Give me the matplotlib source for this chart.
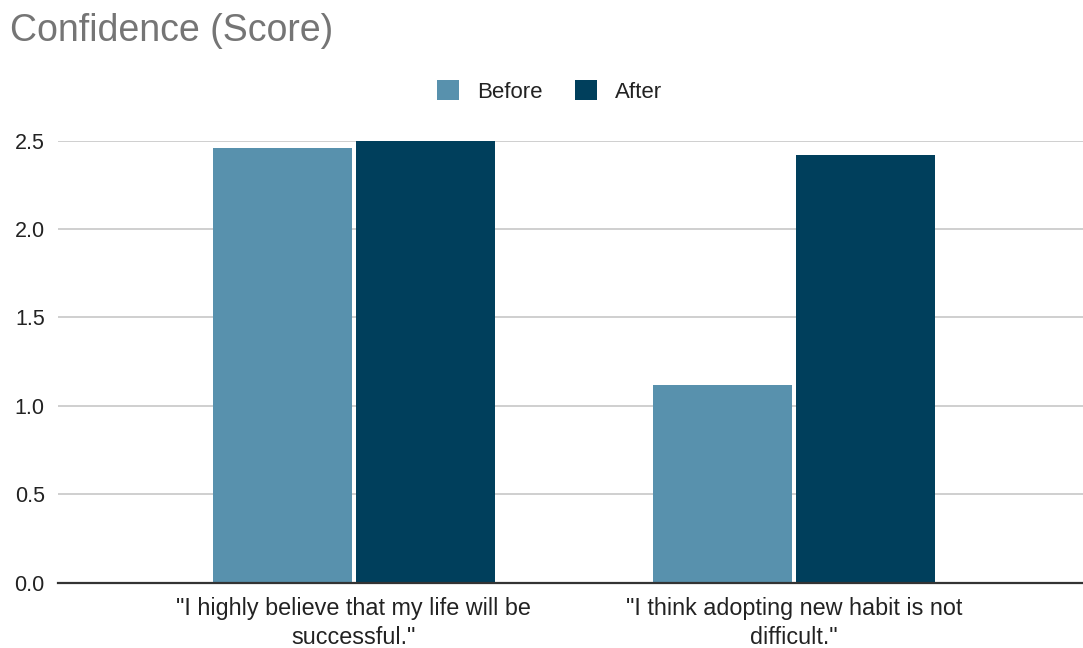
import matplotlib
matplotlib.use("Agg")
import matplotlib.pyplot as plt
import numpy as np

# Survey statements and mean confidence scores
categories = ['"I highly believe that my life will be\nsuccessful."',
              '"I think adopting new habit is not\ndifficult."']
before = [2.46, 1.12]
after = [2.50, 2.42]
series_names = ["Before", "After"]
yticks = [0.0, 0.5, 1.0, 1.5, 2.0, 2.5]

color_before = "#5891AD"
color_after = "#003F5C"

plt.rcParams["font.family"] = ["Liberation Sans", "DejaVu Sans"]

W, H = 1083, 648
fig = plt.figure(figsize=(W / 100, H / 100), dpi=100)
ax = fig.add_axes([58 / W, 1 - 582.7 / H, 1 - 58 / W, (582.7 - 140.7) / H])

x = np.arange(len(categories))
bw = 0.3156
gap = 0.009
b1 = ax.bar(x - (bw + gap) / 2, before, width=bw, color=color_before,
            label=series_names[0], zorder=3, clip_on=False)
b2 = ax.bar(x + (bw + gap) / 2, after, width=bw, color=color_after,
            label=series_names[1], zorder=3, clip_on=False)

ax.set_xlim(-0.671, 1.656)
ax.set_ylim(0, 2.5)
ax.set_yticks(yticks)
ax.set_yticklabels([f"{v:.1f}" for v in yticks])
ax.set_xticks(x)
ax.set_xticklabels(categories, linespacing=1.3)

ax.grid(axis="y", color="#cccccc", linewidth=1.3, zorder=0)
ax.tick_params(axis="y", length=0, pad=9.5, labelsize=15.5, labelcolor="#222222")
ax.tick_params(axis="x", length=0, pad=10.5, labelsize=16.8, labelcolor="#222222")
for side in ["left", "right", "top"]:
    ax.spines[side].set_visible(False)
ax.spines["bottom"].set_color("#333333")
ax.spines["bottom"].set_linewidth(1.6)
ax.spines["bottom"].set_zorder(4)

fig.text(10 / W, 1 - 31 / H, "Confidence (Score)", fontsize=27, color="#757575",
         ha="left", va="center")

fig.legend(handles=[b1, b2], labels=series_names, loc="center",
           bbox_to_anchor=(549.5 / W, 1 - 91.5 / H), ncol=2, frameon=False,
           fontsize=16, handlelength=1.0, handleheight=1.0,
           handletextpad=0.8, columnspacing=1.45, labelcolor="#222222")

fig.savefig("out.png", dpi=100)
